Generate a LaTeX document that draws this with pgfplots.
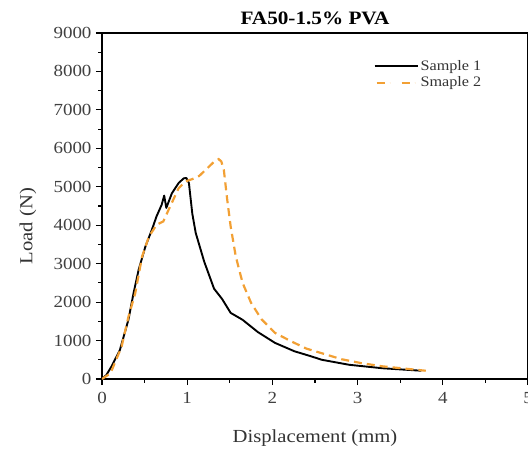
\documentclass[border=0pt]{standalone}
\usepackage{fontspec}
\setmainfont[FakeStretch=1.12]{Liberation Serif}
\usepackage{pgfplots}
\pgfplotsset{compat=1.18}
\definecolor{sorange}{RGB}{242,160,52}
\begin{document}
\begin{tikzpicture}
\useasboundingbox (-102bp,-70bp) rectangle (426bp,379bp);
\begin{axis}[
  at={(0,0)}, anchor=south west,
  scale only axis, width=426bp, height=346bp,
  xmin=0, xmax=5, ymin=0, ymax=9000,
  xtick={0,1,2,3,4,5}, ytick={0,1000,...,9000},
  minor x tick num=1, minor y tick num=1,
  xtick pos=bottom, ytick pos=left,
  tick align=outside,
  major tick length=6bp, minor tick length=3.5bp,
  every tick/.style={line width=1.1pt, black},
  axis line style={line width=1.1pt},
  scaled y ticks=false,
  /pgf/number format/assume math mode=true,
  /pgf/number format/set thousands separator={},
  tick label style={font=\fontsize{17}{18}\selectfont, text=black!75},
  xticklabel style={yshift=-4bp},
  yticklabel style={xshift=-1bp},
  title={\textbf{FA50-1.5\% PVA}},
  title style={font=\fontsize{19}{21}\selectfont, at={(axis description cs:0.5,1)}, anchor=south, yshift=-1bp},
  xlabel={Displacement (mm)},
  ylabel={Load (N)},
  label style={font=\fontsize{18.5}{20}\selectfont, text=black!80},
  xlabel style={at={(axis description cs:0.5,0)}, anchor=center, yshift=-59bp},
  ylabel style={at={(axis description cs:0,0.442)}, anchor=center, yshift=74bp},
  legend style={draw=none, fill=none, at={(axis description cs:0.635,0.93)}, anchor=north west,
    font=\fontsize{14.5}{16}\selectfont, text=black!80, row sep=1bp, inner sep=1bp},
  legend cell align=left,
  legend image code/.code={\draw[#1] (0bp,0bp) -- (43bp,0bp);},
]
\addplot[black, line width=1.9pt, line join=round] coordinates {
(0,0) (0.05,100) (0.11,320) (0.21,755) (0.31,1540) (0.37,2230) (0.43,2840)
(0.51,3450) (0.585,3880) (0.64,4230) (0.70,4530) (0.73,4770) (0.755,4450)
(0.82,4830) (0.90,5100) (0.96,5220) (0.99,5230) (1.02,5100) (1.06,4300)
(1.10,3800) (1.20,3050) (1.315,2350) (1.41,2080) (1.51,1720) (1.65,1540)
(1.83,1220) (2.03,940) (2.26,720) (2.44,600) (2.58,500) (2.90,370)
(3.29,280) (3.75,215)
};
\addlegendentry{Sample 1}
\addplot[sorange, line width=2.2pt, dash pattern=on 8bp off 5bp,
  legend image code/.code={\draw[sorange, line width=2.2pt] (2bp,0bp) -- (15bp,0bp) (27bp,0bp) -- (40bp,0bp);}] coordinates {
(0,0) (0.1,150) (0.23,840) (0.31,1615) (0.39,2230) (0.47,3180) (0.55,3700)
(0.64,4010) (0.72,4100) (0.80,4490) (0.90,4965) (0.98,5140) (1.06,5200)
(1.14,5280) (1.24,5490) (1.31,5640) (1.37,5720) (1.40,5660) (1.43,5440)
(1.47,4660) (1.51,3970) (1.57,3190) (1.65,2500) (1.75,1980) (1.87,1560)
(2.03,1200) (2.22,980) (2.40,790) (2.58,670) (2.81,515) (3.05,410)
(3.29,330) (3.6,260) (3.80,215)
};
\addlegendentry{Smaple 2}
\end{axis}
\end{tikzpicture}
\end{document}
